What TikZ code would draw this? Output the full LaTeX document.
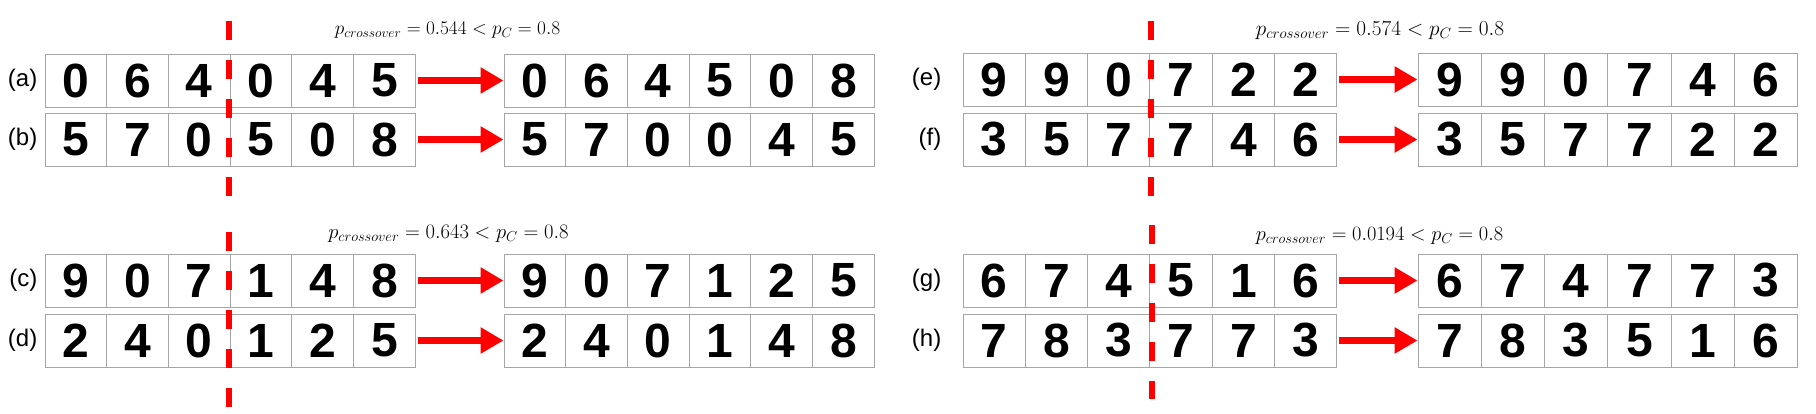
\RequirePackage{fix-cm}
\documentclass[tikz,border=0pt]{standalone}
\usepackage{fontspec}
\newfontfamily\arialfont{Liberation Sans}
\usepackage{tikz}
\usetikzlibrary{arrows.meta,positioning}

% one chromosome row: name, left x, top y, cell width, genes
\newcommand{\genes}[5]{%
	\foreach \g [count=\i] in {#5}
		\node[gene, minimum width=#4pt] (#1\i) at ({#2+(\i-0.5)*#4}, #3+26.5) {\g};
}

\tikzset{
	gene/.style={draw=gray!70, line width=1pt, minimum height=53pt, inner sep=0pt, font=\arialfont\bfseries\fontsize{48}{48}\selectfont},
	tag/.style={font=\arialfont\fontsize{24}{24}\selectfont, inner sep=0pt},
	cut/.style={red, line width=6pt, dash pattern=on 19pt off 20pt},
	swap/.style={red, line width=7pt, shorten <=2pt, -{Triangle[length=23pt,width=25pt]}},
	prob/.style={font=\fontsize{#1}{#1}\selectfont, inner sep=0pt},
	prob/.default=19.3
}

\begin{document}
\begin{tikzpicture}[x=1pt,y=-1pt]
	\useasboundingbox (0,0) rectangle (1816,413);

	% parents (a)-(d)
	\genes{a}{45}{54}{61.7}{0,6,4,0,4,5}
	\genes{b}{45}{113}{61.7}{5,7,0,5,0,8}
	\genes{c}{45}{254}{61.7}{9,0,7,1,4,8}
	\genes{d}{45}{314}{61.7}{2,4,0,1,2,5}
	% offspring (a)-(d)
	\genes{oa}{504}{54}{61.7}{0,6,4,5,0,8}
	\genes{ob}{504}{113}{61.7}{5,7,0,0,4,5}
	\genes{oc}{504}{254}{61.7}{9,0,7,1,2,5}
	\genes{od}{504}{314}{61.7}{2,4,0,1,4,8}

	% parents (e)-(h)
	\genes{e}{963}{53}{62.3}{9,9,0,7,2,2}
	\genes{f}{963}{113}{62.3}{3,5,7,7,4,6}
	\genes{g}{963}{254}{62.3}{6,7,4,5,1,6}
	\genes{h}{963}{314}{62.3}{7,8,3,7,7,3}
	% offspring (e)-(h)
	\genes{oe}{1418}{53}{63.3}{9,9,0,7,4,6}
	\genes{of}{1418}{113}{63.3}{3,5,7,7,2,2}
	\genes{og}{1418}{254}{63.3}{6,7,4,7,7,3}
	\genes{oh}{1418}{314}{63.3}{7,8,3,5,1,6}

	\foreach \r in {a,b,c,d}
		\node[tag, left=7pt of \r1] (l\r) {(\r)};
	\foreach \r in {e,f,g,h}
		\node[tag, left=21pt of \r1] (l\r) {(\r)};

	\foreach \r in {a,b,c,d,e,f,g,h}
		\draw[swap] (\r6.east) -- (o\r1.west);

	% crossover points
	\draw[cut] (229,21) -- (229,196);
	\draw[cut] (229,232) -- (229,407);
	\draw[cut] (1151,21) -- (1151,196);
	\draw[cut] (1152,225) -- (1152,399);

	\node[prob] (pab) at (447.5,30) {$p_{crossover} = 0.544 < p_C = 0.8$};
	\node[prob=20.6] (pcd) at (448.5,234) {$p_{crossover} = 0.643 < p_C = 0.8$};
	\node[prob=21.3] (pef) at (1380,31) {$p_{crossover} = 0.574 < p_C = 0.8$};
	\node[prob=20.4] (pgh) at (1379.5,236) {$p_{crossover} = 0.0194 < p_C = 0.8$};

\end{tikzpicture}
\end{document}
